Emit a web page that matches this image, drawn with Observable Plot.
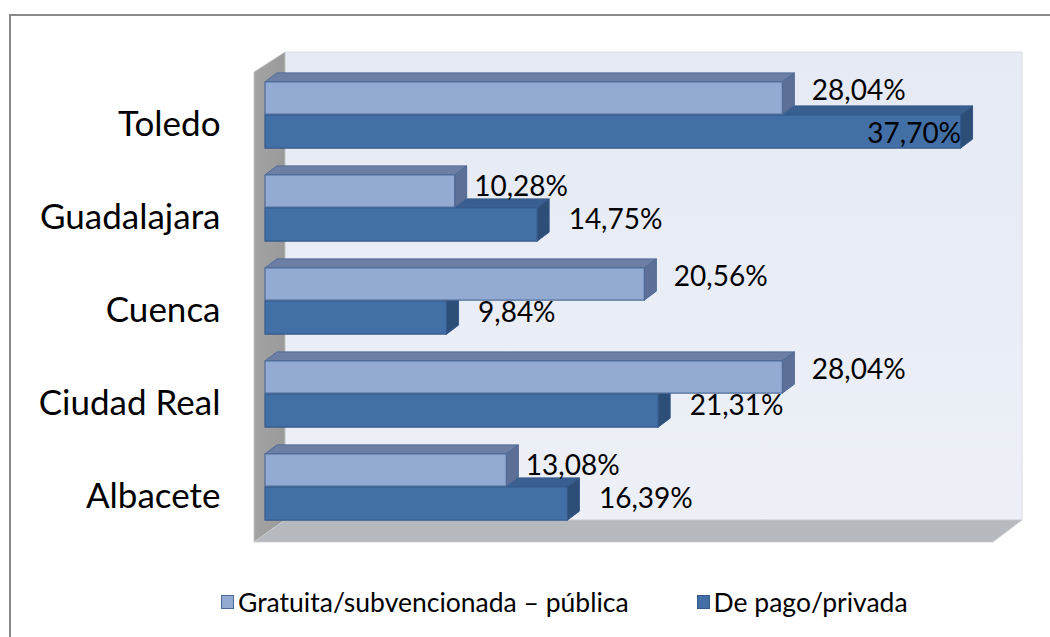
<!DOCTYPE html>
<html><head><meta charset="utf-8">
<script src="https://cdn.jsdelivr.net/npm/d3@7"></script>
<script src="https://cdn.jsdelivr.net/npm/@observablehq/plot@0.6"></script>
<style>
body{margin:0;background:#fff;font-family:Lato,sans-serif}
#wrap{position:relative;width:1050px;height:637px;overflow:hidden;background:#fff}
#frame{position:absolute;left:9px;top:14px;width:1200px;height:800px;border:2px solid #8a8a8a;box-sizing:border-box}
#chart{position:absolute;left:0;top:0}
#legend{position:absolute;top:586px;left:221px;display:flex;align-items:center;font-size:26.5px;line-height:32px;color:#000;white-space:nowrap}
#legend .item{display:flex;align-items:center}
#legend .sw{width:13px;height:14px;box-sizing:border-box;margin-right:4px}
</style></head>
<body><div id="wrap"><div id="frame"></div><div id="chart"></div><div id="legend"></div></div>
<script>
const categories = ["Toledo","Guadalajara","Cuenca","Ciudad Real","Albacete"];
const gratuita = [28.04,10.28,20.56,28.04,13.08];
const dePago = [37.70,14.75,9.84,21.31,16.39];
const seriesNames = ["Gratuita/subvencionada – pública","De pago/privada"];
const xDomain = [0,40];

const rows = categories.flatMap((c,i)=>[
  {cat:c, serie:seriesNames[0], value:gratuita[i], other:dePago[i]},
  {cat:c, serie:seriesNames[1], value:dePago[i], other:gratuita[i]}
]);
const light = rows.filter(d=>d.serie===seriesNames[0]);
const dark = rows.filter(d=>d.serie===seriesNames[1]);
const fmt = v => v.toFixed(2).replace(".", ",") + "%";

const DX = 12, DY = 9;
const BW = 93.75;
const ST = {
  light:{front:"#93ABD3", top:"#6E7FA6", side:"#5D6F97", stroke:"#4D6A96", insetTop:BW/2-33, insetBottom:BW/2},
  dark:{front:"#4270A6", top:"#385F8F", side:"#2D4E77", stroke:"#35598A", insetTop:BW/2, insetBottom:BW/2-34}
};

function walls(index, scales, values, dims){
  const x = scales.x;
  const x0 = x(xDomain[0]), x1 = x(xDomain[1]);
  const yT = dims.marginTop, yB = dims.height - dims.marginBottom;
  const fL = x0-11, bL = x0+20, fR = x1-10, bR = x1+19;
  const bT = yT-14, bB = yB-15, fT = yT+6, fB = yB+7;
  const g = d3.create("svg:g");
  const defs = g.append("defs");
  const gr = defs.append("linearGradient").attr("id","bw").attr("x1",0).attr("y1",0).attr("x2",0).attr("y2",1);
  gr.append("stop").attr("offset",0).attr("stop-color","#E6EAF4");
  gr.append("stop").attr("offset",1).attr("stop-color","#EDF0F7");
  const gl = defs.append("linearGradient").attr("id","lw").attr("x1",0).attr("y1",0).attr("x2",1).attr("y2",0);
  gl.append("stop").attr("offset",0).attr("stop-color","#A3A3A3");
  gl.append("stop").attr("offset",1).attr("stop-color","#9A9A9A");
  g.append("path").attr("d",`M${bL},${bT}L${bR},${bT}L${bR},${bB}L${bL},${bB}Z`).attr("fill","url(#bw)").attr("stroke","#D8DCE4").attr("stroke-width",1);
  g.append("path").attr("d",`M${fL},${fT}L${bL},${bT}L${bL},${bB}L${fL},${fB}Z`).attr("fill","url(#lw)").attr("stroke","#C8C8C8").attr("stroke-width",0.8);
  g.append("path").attr("d",`M${fL},${fB}L${bL},${bB}L${bR},${bB}L${fR},${fB}Z`).attr("fill","#B6B9BE").attr("stroke","#C9CBCF").attr("stroke-width",0.8);
  return g.node();
}

function depth(data, st){
  return (index, scales) => {
    const x = scales.x, y = scales.y, bw = y.bandwidth();
    const g = d3.create("svg:g");
    for (const d of data){
      const xa = x(0), xb = x(d.value);
      const yt = y(d.cat) + st.insetTop, yb = y(d.cat) + bw - st.insetBottom;
      g.append("path").attr("d",`M${xa},${yt}L${xb},${yt}L${xb+DX},${yt-DY}L${xa+DX},${yt-DY}Z`)
        .attr("fill",st.top).attr("stroke",st.stroke).attr("stroke-width",1).attr("stroke-linejoin","round");
      g.append("path").attr("d",`M${xb},${yt}L${xb+DX},${yt-DY}L${xb+DX},${yb-DY}L${xb},${yb}Z`)
        .attr("fill",st.side).attr("stroke",st.stroke).attr("stroke-width",1).attr("stroke-linejoin","round");
    }
    return g.node();
  };
}

const front = (data, st) => Plot.barX(data, {x1:0, x2:"value", y:"cat", fill:st.front, stroke:st.stroke, strokeWidth:1.2, insetTop:st.insetTop, insetBottom:st.insetBottom});

const lblStyle = {fontSize:28, fill:"#000", textAnchor:"start", lineAnchor:"middle"};
const inside = v => v > 35;
const tight = d => d.value < d.other && !inside(d.other);

const plot = Plot.plot({
  width:1050, height:580,
  marginLeft:265, marginRight:47, marginTop:66, marginBottom:45,
  style:{fontFamily:"Lato, sans-serif", background:"transparent", color:"#000", overflow:"visible"},
  x:{domain:xDomain, axis:null},
  y:{domain:categories, padding:0, axis:null},
  marks:[
    walls,
    depth(dark, ST.dark), front(dark, ST.dark),
    depth(light, ST.light), front(light, ST.light),
    Plot.axisY({tickSize:0, tickPadding:45, fontSize:35, dy:10, fill:"#000", label:null}),
    Plot.text(light.filter(d=>!tight(d)), {x:"value", y:"cat", text:d=>fmt(d.value), dx:29, dy:-24, ...lblStyle}),
    Plot.text(light.filter(tight), {x:"value", y:"cat", text:d=>fmt(d.value), dx:19, dy:-21, ...lblStyle}),
    Plot.text(dark.filter(d=>!inside(d.value)), {x:"value", y:"cat", text:d=>fmt(d.value), dx:31, dy:12, ...lblStyle}),
    Plot.text(dark.filter(d=>inside(d.value)), {x:"value", y:"cat", text:d=>fmt(d.value), dx:0, dy:19, ...lblStyle, textAnchor:"end"})
  ]
});
document.getElementById("chart").appendChild(plot);

const legendColors = [[ST.light.front, ST.light.stroke],[ST.dark.front, ST.dark.stroke]];
const lg = d3.select("#legend");
seriesNames.forEach((n,i)=>{
  const it = lg.append("div").attr("class","item").style("margin-right", i===0 ? "68px" : "0");
  it.append("div").attr("class","sw").style("background",legendColors[i][0]).style("border",`1px solid ${legendColors[i][1]}`);
  it.append("span").text(n);
});
</script></body></html>
